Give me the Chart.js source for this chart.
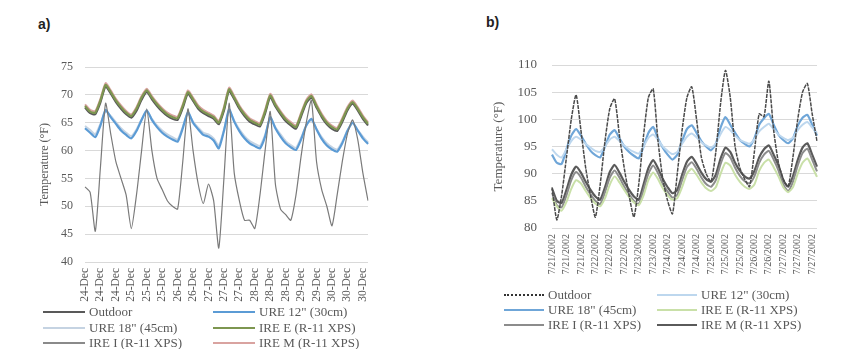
<!DOCTYPE html>
<html>
<head>
<meta charset="utf-8">
<script src="https://cdn.jsdelivr.net/npm/chart.js@4.4.1/dist/chart.umd.min.js"></script>
<style>
  body { margin:0; background:#fff; width:848px; height:349px; overflow:hidden; position:relative; font-family:"Liberation Serif", serif; color:#595959; }
  canvas { position:absolute; top:0; }
  .tag { position:absolute; font:bold 14px "Liberation Sans", Arial, sans-serif; color:#222; }
  .leg { position:absolute; display:flex; align-items:center; white-space:nowrap; color:#595959; font-family:"Liberation Serif", serif; }
  .leg i { display:inline-block; margin-right:4px; }
</style>
</head>
<body>
<div class="tag" style="left:38px;top:16px">a)</div>
<div class="tag" style="left:486px;top:14px">b)</div>
<canvas id="chart-a" width="424" height="310" style="left:0"></canvas>
<canvas id="chart-b" width="424" height="290" style="left:424px"></canvas>
<div id="legend-a"></div>
<div id="legend-b"></div>
<script>
'use strict';

// ── a) December, 3-hour steps ──
const catsA = [
  '24-Dec','24-Dec','24-Dec','24-Dec','24-Dec','24-Dec','24-Dec','24-Dec',
  '25-Dec','25-Dec','25-Dec','25-Dec','25-Dec','25-Dec','25-Dec','25-Dec',
  '26-Dec','26-Dec','26-Dec','26-Dec','26-Dec','26-Dec','26-Dec','26-Dec',
  '27-Dec','27-Dec','27-Dec','27-Dec','27-Dec','27-Dec','27-Dec','27-Dec',
  '28-Dec','28-Dec','28-Dec','28-Dec','28-Dec','28-Dec','28-Dec','28-Dec',
  '29-Dec','29-Dec','29-Dec','29-Dec','29-Dec','29-Dec','29-Dec','29-Dec',
  '30-Dec','30-Dec','30-Dec','30-Dec','30-Dec','30-Dec','30-Dec','30-Dec'];
const outdoorA = [53.5,52.5,45.5,57,68.5,63,58,55,52,46, 52,60,67.5,60,55,53,51,50,49.5,58,
  67.5,60,54,50.5,54,51,42.5,55,68.5,56, 51,47.5,47.5,46,52,60,67,54,49.5,48.5,
  47.5,52,59,65,69,58,53,50,46.5,52, 58,63,65.5,62,56,51];
const ure12A = [64.0,63.2,62.4,64.5,67.3,66.0,64.8,63.6,62.8,62.2, 63.5,65.5,67.2,65.5,64.2,63.2,62.5,62.0,61.6,64.0,
  66.9,65.0,63.8,62.8,62.5,61.8,60.4,63.5,67.4,65.2, 63.5,62.2,61.3,60.8,60.4,62.5,66.0,64.0,62.5,61.3,
  60.6,60.1,62.0,64.5,65.7,63.8,62.1,60.9,60.2,59.8, 61.3,63.5,65.0,63.6,62.2,61.2];
const ure18A = [64.4,63.7,62.9,64.8,67.0,66.2,65.1,64.0,63.2,62.6, 63.8,65.6,67.0,65.7,64.5,63.6,62.9,62.4,62.0,64.2,
  66.7,65.2,64.1,63.2,62.9,62.2,60.9,63.7,67.1,65.4, 63.8,62.6,61.7,61.2,60.8,62.8,65.8,64.2,62.9,61.7,
  61.0,60.5,62.3,64.5,65.5,63.9,62.4,61.3,60.6,60.2, 61.6,63.6,64.9,63.7,62.5,61.5];
const ireEA = [68.0,67.0,66.8,69.0,71.8,70.5,69.0,67.8,66.8,66.2, 67.5,69.5,70.8,69.5,68.3,67.3,66.5,66.0,65.8,68.0,
  70.5,69.2,67.8,67.0,66.5,66.0,65.0,67.5,71.0,69.5, 67.8,66.5,65.5,65.0,64.6,67.0,69.9,68.2,66.8,65.6,
  64.8,64.2,66.5,68.8,69.8,68.0,66.3,65.0,64.2,63.8, 65.5,67.5,68.7,67.5,66.0,64.8];
const ireIA = [67.7,66.7,66.5,68.6,71.5,70.2,68.7,67.5,66.5,65.9, 67.1,69.1,70.5,69.2,68.0,67.0,66.2,65.7,65.5,67.6,
  70.2,68.9,67.5,66.7,66.2,65.7,64.7,67.1,70.7,69.2, 67.5,66.2,65.2,64.7,64.3,66.6,69.6,67.9,66.5,65.3,
  64.5,63.9,66.1,68.5,69.5,67.7,66.0,64.7,63.9,63.5, 65.1,67.2,68.4,67.2,65.7,64.5];
const ireMA = [68.3,67.3,67.1,69.3,72.1,70.8,69.3,68.1,67.1,66.5, 67.8,69.8,71.1,69.8,68.6,67.6,66.8,66.3,66.1,68.3,
  70.8,69.5,68.1,67.3,66.8,66.3,65.3,67.8,71.3,69.8, 68.1,66.8,65.8,65.3,64.9,67.3,70.2,68.5,67.1,65.9,
  65.1,64.5,66.8,69.1,70.1,68.3,66.6,65.3,64.5,64.1, 65.8,67.8,69.0,67.8,66.3,65.1];

// ── b) July, 3-hour steps ──
const catsB = [
  '7/21/2002','7/21/2002','7/21/2002','7/21/2002','7/21/2002','7/21/2002','7/21/2002','7/21/2002',
  '7/22/2002','7/22/2002','7/22/2002','7/22/2002','7/22/2002','7/22/2002','7/22/2002','7/22/2002',
  '7/23/2002','7/23/2002','7/23/2002','7/23/2002','7/23/2002','7/23/2002','7/23/2002','7/23/2002',
  '7/24/2002','7/24/2002','7/24/2002','7/24/2002','7/24/2002','7/24/2002','7/24/2002','7/24/2002',
  '7/25/2002','7/25/2002','7/25/2002','7/25/2002','7/25/2002','7/25/2002','7/25/2002','7/25/2002',
  '7/26/2002','7/26/2002','7/26/2002','7/26/2002','7/26/2002','7/26/2002','7/26/2002','7/26/2002',
  '7/27/2002','7/27/2002','7/27/2002','7/27/2002','7/27/2002','7/27/2002','7/27/2002','7/27/2002'];
const outdoorB = [87.5,81.5,86,93,100,104.5,98,91,86,82, 88,96,102,103.8,97,91,86,82,88,97,
  104,105.6,96,89,85,82.6,90,98,104,106, 100,93,90,88.5,94,103,109,104,95,91,
  89,87.6,94,101,100.5,107,98,92,89,87.6, 93,100,105,106.6,101,96];
const ure12B = [94.5,93.5,93.0,94.5,96.0,96.8,96.3,95.5,94.8,94.2, 94.0,95.0,96.3,96.8,96.0,95.2,94.5,94.0,93.7,95.0,
  96.6,97.2,96.2,95.0,94.2,93.6,94.0,95.5,96.8,97.4, 96.7,95.8,95.2,94.8,95.5,97.3,98.6,98.0,97.0,96.2,
  95.8,95.5,96.3,97.8,98.6,99.2,98.2,97.2,96.6,96.2, 96.6,98.0,99.0,99.5,98.5,97.5];
const ure18B = [93.5,92.0,91.8,94.5,97.0,98.2,97.0,95.5,94.2,93.4, 93.0,95.0,97.2,98.0,96.5,95.0,94.0,93.3,92.8,95.0,
  97.5,98.6,96.5,94.8,93.5,92.6,93.5,96.0,98.2,98.9, 97.5,96.0,95.0,94.3,95.5,98.5,100.4,99.0,97.5,96.2,
  95.5,95.0,96.5,99.0,100.2,101.0,99.0,97.2,96.2,95.6, 96.5,98.8,100.3,100.8,99.0,97.0];
const ireEB = [85.5,84.0,83.2,84.8,87.2,88.8,88.2,86.8,85.5,84.5, 84.0,85.5,88.0,89.5,88.4,87.0,85.7,84.7,84.2,86.0,
  88.8,90.2,89.0,87.3,86.0,85.2,85.5,87.5,90.0,90.9, 89.8,88.4,87.3,86.8,87.5,90.0,92.0,91.5,89.8,88.5,
  87.6,87.2,88.0,90.5,92.0,92.6,91.2,89.5,87.5,86.6, 87.5,90.0,92.0,92.8,91.2,89.4];
const ireIB = [86.5,84.2,83.8,86.0,88.8,90.3,89.3,87.6,86.2,85.0, 84.4,86.6,89.3,90.6,89.3,87.6,86.2,85.0,84.4,87.0,
  90.0,91.5,90.1,88.1,86.7,85.6,86.1,88.8,91.2,92.1, 90.9,89.3,88.1,87.6,88.8,91.8,93.8,93.0,91.1,89.6,
  88.6,88.2,89.5,92.0,93.5,94.2,92.6,90.6,88.0,86.8, 88.5,91.5,93.8,94.6,92.6,90.4];
const ireMB = [87.3,85.0,84.6,87.0,89.8,91.3,90.2,88.5,87.0,85.8, 85.2,87.5,90.3,91.6,90.2,88.5,87.0,85.8,85.2,88.0,
  91.0,92.5,91.0,89.0,87.5,86.4,87.0,89.8,92.2,93.1, 91.8,90.2,89.0,88.5,89.8,92.8,94.8,94.0,92.0,90.5,
  89.5,89.1,90.5,93.0,94.5,95.2,93.5,91.5,88.8,87.6, 89.5,92.5,94.8,95.6,93.5,91.3];

const seriesNames = ['Outdoor','URE 12" (30cm)','URE 18" (45cm)','IRE E (R-11 XPS)','IRE I (R-11 XPS)','IRE M (R-11 XPS)'];
const colorsA = ['#7a7a7a','#5b9bd5','#c5d3e2','#7d9650','#585858','#d9a3a0'];
const colorsB = ['#4a4a4a','#bdd7ee','#6fa6d8','#c9e0a8','#8c8c8c','#5a5a5a'];
const ticksA = [40,45,50,55,60,65,70,75];
const ticksB = [80,85,90,95,100,105,110];

const serif = '"Liberation Serif", "Times New Roman", serif';

function ds(label, data, color, width, dash) {
  return { label, data, borderColor:color, backgroundColor:color, borderWidth:width,
    borderDash:dash||[], pointRadius:0, tension:0.2, fill:false };
}

function makeChart(id, o) {
  return new Chart(document.getElementById(id), {
    type:'line',
    data:{ labels:o.cats, datasets:o.datasets },
    options:{
      responsive:false, animation:false, devicePixelRatio:1,
      layout:{ padding:o.pad },
      plugins:{ legend:{display:false}, tooltip:{enabled:false} },
      scales:{
        x:{
          grid:{display:false, drawTicks:false}, border:{display:false},
          afterFit:s=>{ s.height=o.xh; },
          ticks:{ autoSkip:false, minRotation:90, maxRotation:90, padding:o.xpad, color:'#595959',
            font:{family:serif, size:o.xfs},
            callback:function(v,i){ return i%3===0 ? this.getLabelForValue(v) : null; } }
        },
        y:{
          min:o.ticks[0], max:o.ticks[o.ticks.length-1],
          afterFit:s=>{ s.width=o.yw; },
          afterBuildTicks:s=>{ s.ticks=o.ticks.map(v=>({value:v})); },
          grid:{color:'#d9d9d9', drawTicks:false, lineWidth:1}, border:{display:false},
          ticks:{ padding:o.ypad, color:'#595959', font:{family:serif, size:o.yfs} },
          title:{ display:true, text:'Temperature (°F)', color:'#595959', padding:0,
            font:{family:serif, size:o.tfs} }
        }
      }
    }
  });
}

makeChart('chart-a', {
  cats:catsA, ticks:ticksA,
  pad:{left:38, top:67, right:56, bottom:0}, yw:47, ypad:12, xh:48, xpad:6,
  xfs:11.5, yfs:12, tfs:12,
  datasets:[
    ds(seriesNames[0], outdoorA, colorsA[0], 1.2),
    ds(seriesNames[1], ure12A, colorsA[1], 2.2),
    ds(seriesNames[2], ure18A, colorsA[2], 2),
    ds(seriesNames[3], ireEA, colorsA[3], 2.2),
    ds(seriesNames[4], ireIA, colorsA[4], 2),
    ds(seriesNames[5], ireMA, colorsA[5], 2)
  ]
});

makeChart('chart-b', {
  cats:catsB, ticks:ticksB,
  pad:{left:67, top:65, right:31, bottom:0}, yw:61, ypad:15, xh:62, xpad:6,
  xfs:10, yfs:13, tfs:13,
  datasets:[
    ds(seriesNames[0], outdoorB, colorsB[0], 1.5, [4,1]),
    ds(seriesNames[1], ure12B, colorsB[1], 2),
    ds(seriesNames[2], ure18B, colorsB[2], 2.2),
    ds(seriesNames[3], ireEB, colorsB[3], 2),
    ds(seriesNames[4], ireIB, colorsB[4], 2),
    ds(seriesNames[5], ireMB, colorsB[5], 2.2)
  ]
});

// legends, two columns like the original figure
function buildLegend(id, colors, cfg) {
  const el = document.getElementById(id);
  el.innerHTML = seriesNames.map((n,i)=>{
    const col=i%2, row=Math.floor(i/2);
    const style = (cfg.dotted && i===0) ? 'dotted' : 'solid';
    return `<div class="leg" style="left:${cfg.x[col]}px;top:${cfg.y[row]-8}px;height:16px;font-size:${cfg.fs}px">
      <i style="width:${cfg.lw}px;border-top:${cfg.bw}px ${style} ${colors[i]}"></i>${n.replace(/"/g,'&quot;')}</div>`;
  }).join('');
}
buildLegend('legend-a', ['#595959',colorsA[1],colorsA[2],colorsA[3],'#8a8a8a',colorsA[5]],
  {x:[43,213], y:[312,328,343], fs:13, lw:42, bw:2});
buildLegend('legend-b', ['#333',colorsB[1],colorsB[2],colorsB[3],colorsB[4],colorsB[5]],
  {x:[504,657], y:[295,310,325], fs:13, lw:40, bw:2, dotted:true});
</script>
</body>
</html>
